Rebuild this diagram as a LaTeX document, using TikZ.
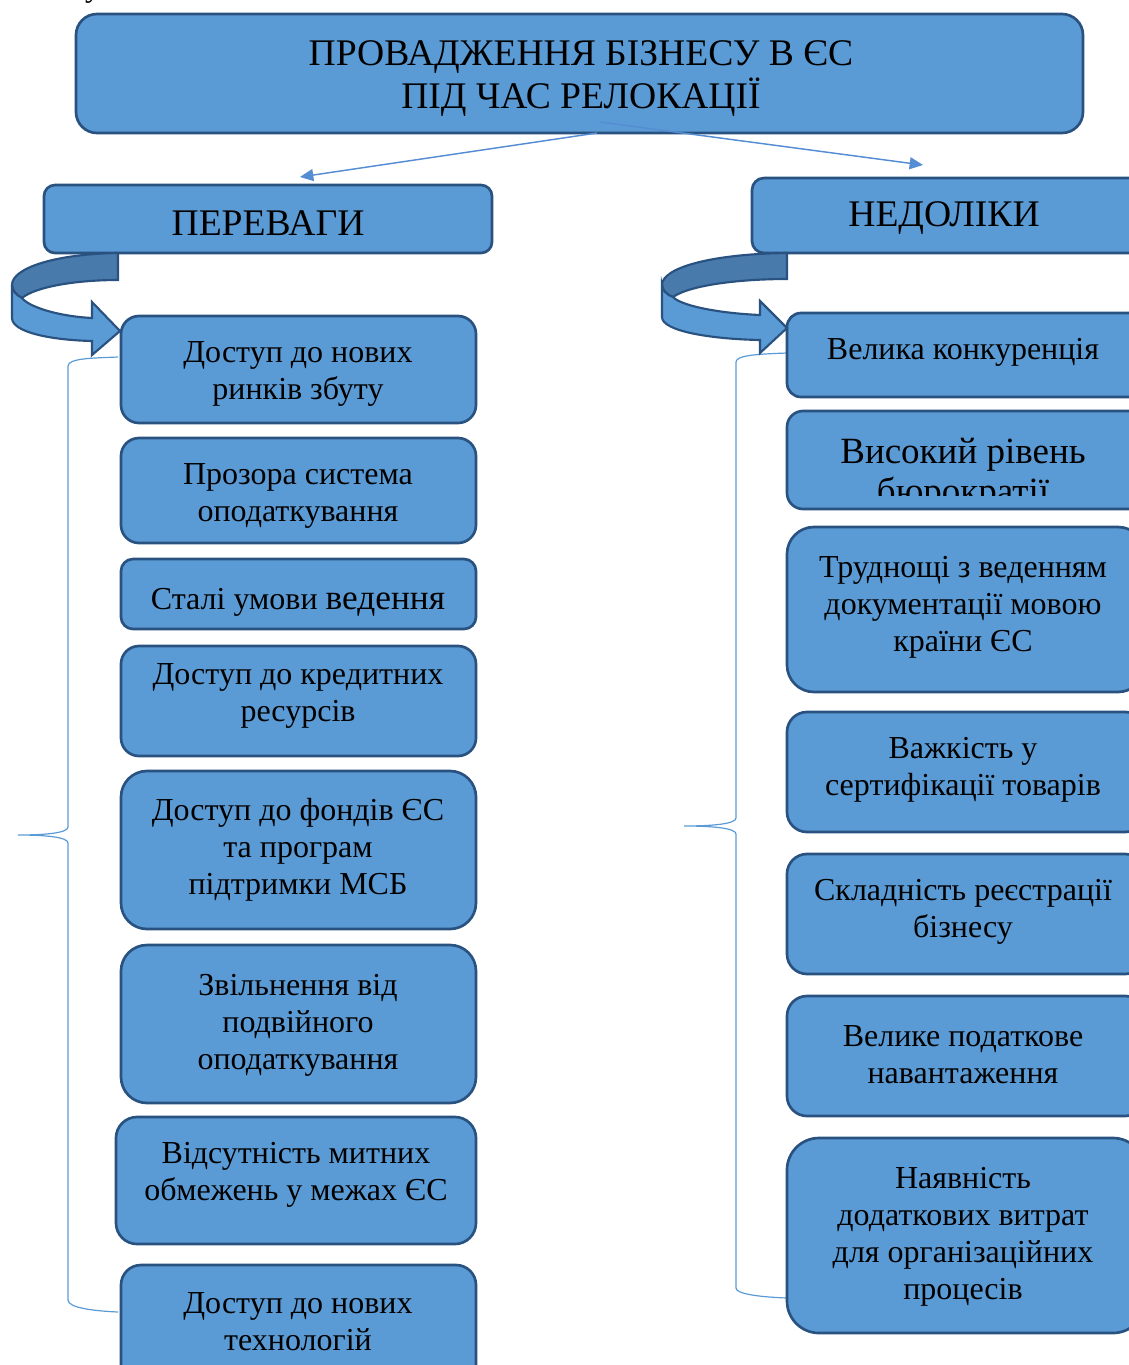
\documentclass[tikz,border=0pt]{standalone}
\usepackage{fontspec}
\setmainfont{Liberation Serif}
\usetikzlibrary{arrows.meta}

\definecolor{boxfill}{RGB}{91,155,213}
\definecolor{boxline}{RGB}{41,82,128}
\definecolor{facedark}{RGB}{72,122,171}
\definecolor{linkc}{RGB}{84,141,212}
\definecolor{bracec}{RGB}{91,155,213}

\newcommand\smallfont{\fontsize{24pt}{27.75pt}\selectfont}
\newcommand\bigfont{\fontsize{28.2pt}{32.25pt}\selectfont}

% rounded panel: name, x1, y1, x2, y2, corner radius (all in px units)
\newcommand\panelbox[6]{%
  \node[panel, minimum width={(#4-#2)*0.75pt}, minimum height={(#5-#3)*0.75pt},
        rounded corners={#6*0.75pt}] (#1) at ({(#2+#4)/2},{(#3+#5)/2}) {};}

\tikzset{
  panel/.style={draw=boxline, fill=boxfill, line width=2pt, inner sep=0pt, outer sep=0pt, rectangle},
  txt/.style={align=center, inner sep=0pt, text=black, font=\smallfont, yshift=-3pt},
  bigtxt/.style={txt, font=\bigfont},
  link/.style={draw=linkc, line width=1.1pt, -{Triangle[length=10pt,width=9pt]}},
  bracket/.style={draw=bracec, line width=0.9pt},
  turnface/.style={draw=boxline, line width=1.6pt, line join=miter},
}

\begin{document}
\begin{tikzpicture}[x=0.75pt,y=-0.75pt]
\useasboundingbox (0,0) rectangle (1129,1365);

% tail of a letter from the preceding line of text
\node[anchor=base, font=\smallfont] (frag) at (93,-4) {у};

% braces gathering each column
\draw[bracket] (118,357) .. controls (95,358) and (68,358) .. (68,366) -- (68,827)
  .. controls (68,833) and (45,835) .. (18,835) .. controls (45,835) and (68,837) .. (68,843)
  -- (68,1300) .. controls (68,1308) and (95,1311) .. (118,1312);
\draw[bracket] (787,353) .. controls (760,354) and (736,355) .. (736,362) -- (736,818)
  .. controls (736,824) and (712,826) .. (684,826) .. controls (712,826) and (736,828) .. (736,834)
  -- (736,1288) .. controls (736,1294) and (760,1297) .. (787,1298);

% headings
\panelbox{title}{76}{14}{1083}{133}{21}
\node[bigtxt] (titletxt) at (581,75) {ПРОВАДЖЕННЯ БІЗНЕСУ В ЄС\\ПІД ЧАС РЕЛОКАЦІЇ};
\panelbox{pros}{44}{185}{492}{253}{11}
\node[bigtxt] (prostxt) at (268,219) {ПЕРЕВАГИ};
\panelbox{cons}{752}{178}{1145}{253}{12}
\node[bigtxt] (constxt) at (944,214) {НЕДОЛІКИ};

% left column
\panelbox{L1}{121}{316}{476}{423}{18}
\node[txt] (L1t) at (298,370) {Доступ до нових\\ринків збуту};
\panelbox{L2}{121}{438}{476}{543}{18}
\node[txt] (L2t) at (298,492) {Прозора система\\оподаткування};
\panelbox{L3}{121}{559}{476}{629}{12}
\node[txt] (L3t) at (298,598) {Сталі умови {\fontsize{26.5pt}{30pt}\selectfont ведення}};
\panelbox{L4}{121}{646}{476}{756}{18}
\node[txt] (L4t) at (298,692) {Доступ до кредитних\\ресурсів};
\panelbox{L5}{121}{771}{476}{929}{26}
\node[txt] (L5t) at (298,846) {Доступ до фондів ЄС\\та програм\\підтримки МСБ};
\panelbox{L6}{121}{945}{476}{1103}{26}
\node[txt] (L6t) at (298,1021) {Звільнення від\\подвійного\\оподаткування};
\panelbox{L7}{116}{1117}{476}{1244}{21}
\node[txt] (L7t) at (296,1171) {Відсутність митних\\обмежень у межах ЄС};
\panelbox{L8}{121}{1265}{476}{1385}{20}
\node[txt] (L8t) at (298,1318) {Доступ до нових\\технологій};

% right column
\panelbox{R1}{787}{313}{1145}{397}{14}
\node[txt] (R1t) at (963,348) {Велика конкуренція};
\panelbox{R2}{787}{411}{1145}{509}{16}
\begin{scope}
  \clip (787,411) rectangle (1145,495);
  \node[bigtxt, font=\fontsize{27.75pt}{30pt}\selectfont] (R2t) at (963,471) {Високий рівень\\бюрократії};
\end{scope}
\panelbox{R3}{787}{527}{1145}{692}{27}
\node[txt] (R3t) at (963,603) {Труднощі з веденням\\документації мовою\\країни ЄС};
\panelbox{R4}{787}{712}{1145}{832}{20}
\node[txt] (R4t) at (963,766) {Важкість у\\сертифікації товарів};
\panelbox{R5}{787}{854}{1145}{974}{20}
\node[txt] (R5t) at (963,908) {Складність реєстрації\\бізнесу};
\panelbox{R6}{787}{996}{1145}{1116}{20}
\node[txt] (R6t) at (963,1051) {Велике податкове\\навантаження};
\panelbox{R7}{787}{1138}{1145}{1333}{32}
\node[txt] (R7t) at (963,1233) {Наявність\\додаткових витрат\\для організаційних\\процесів};

% turning arrows under the two headings
\path[turnface, fill=facedark] (118,253) .. controls (55,254) and (12,268) .. (12,285)
  .. controls (12,290) and (16,295) .. (22,298) .. controls (35,287) and (75,280) .. (118,280) -- cycle;
\path[turnface, fill=boxfill] (12,285) -- (12,318) .. controls (12,332) and (50,340) .. (92,341)
  -- (92,355) -- (120,331) -- (92,302) -- (92,318) .. controls (55,316) and (28,306) .. (22,298)
  .. controls (16,295) and (12,290) .. (12,285) -- cycle;

\path[turnface, fill=facedark] (787,253) .. controls (710,254) and (662,268) .. (662,285)
  .. controls (662,290) and (667,295) .. (673,297) .. controls (690,285) and (740,279) .. (787,279) -- cycle;
\path[turnface, fill=boxfill] (662,285) -- (662,317) .. controls (662,331) and (710,339) .. (760,340)
  -- (760,353) -- (787,328) -- (760,301) -- (760,315) .. controls (715,313) and (680,305) .. (673,297)
  .. controls (667,295) and (662,290) .. (662,285) -- cycle;

% links from the main heading
\coordinate (fromL) at (597,133);
\coordinate (toL) at (300,177);
\coordinate (fromR) at (600,122);
\coordinate (toR) at (923,165);
\draw[link] (fromL) -- (toL);
\draw[link] (fromR) -- (toR);
\end{tikzpicture}
\end{document}
